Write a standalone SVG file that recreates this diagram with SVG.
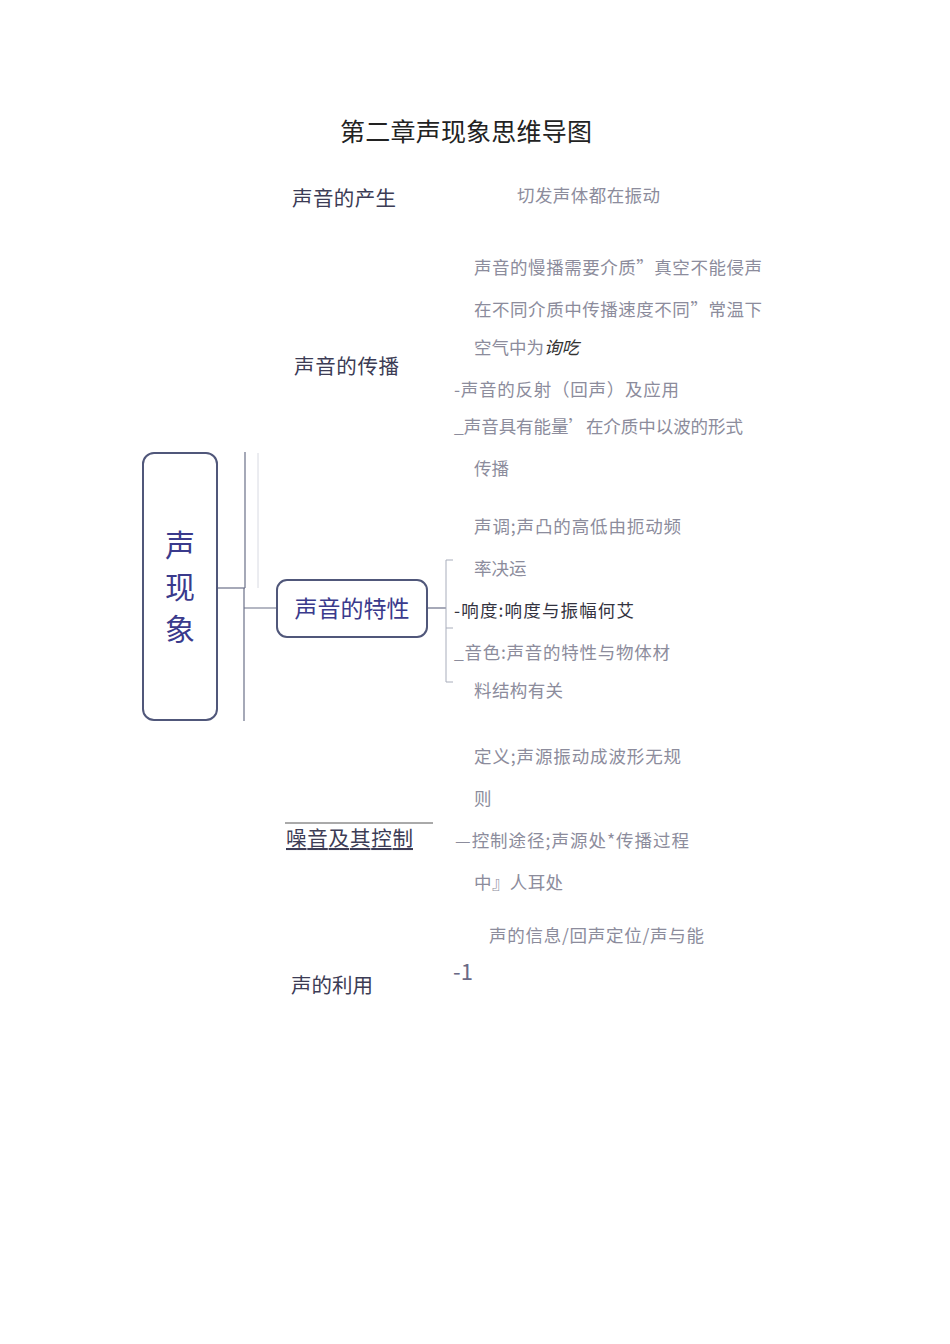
<svg xmlns="http://www.w3.org/2000/svg" width="950" height="1344" viewBox="0 0 950 1344">
<style>
text{font-family:"Noto Sans CJK SC","Liberation Sans",sans-serif;}
.h{font-size:20.5px;fill:#3c3c55;}
.b{font-size:17.5px;fill:#8c8c9c;}
.d{font-size:17.5px;fill:#333340;}
.ln{stroke:#6a7088;stroke-width:1.2;fill:none;}
.fl{stroke:#a8adbb;stroke-width:1;fill:none;}
.box{fill:#fff;stroke:#50577a;stroke-width:2;}
</style>
<rect width="950" height="1344" fill="#fff"/>
<text x="340" y="141" font-size="25" fill="#222" textLength="252">第二章声现象思维导图</text>
<g id="connectors">
<line class="ln" x1="245" y1="452" x2="245" y2="588"/>
<line class="ln" x1="244" y1="588" x2="244" y2="721"/>
<line stroke="#d8dae2" stroke-width="1" x1="258" y1="453" x2="258" y2="588"/>
<line class="ln" x1="217" y1="588" x2="245" y2="588"/>
<line class="ln" x1="244" y1="608" x2="277" y2="608"/>
<line class="ln" x1="427" y1="608" x2="446" y2="608"/>
<line class="fl" x1="446" y1="560" x2="446" y2="682"/>
<line class="fl" x1="446" y1="560" x2="453" y2="560"/>
<line class="fl" x1="446" y1="628" x2="453" y2="628"/>
<line class="fl" x1="446" y1="682" x2="453" y2="682"/>
<line stroke="#555" stroke-width="1" x1="285" y1="823" x2="433" y2="823"/>
</g>
<g id="root">
<rect class="box" x="143" y="453" width="74" height="267" rx="11"/>
<text x="180" y="556" font-size="30" fill="#3a3a8c" text-anchor="middle">声</text>
<text x="180" y="598" font-size="30" fill="#3a3a8c" text-anchor="middle">现</text>
<text x="180" y="640" font-size="30" fill="#3a3a8c" text-anchor="middle">象</text>
</g>
<g id="node-chanSheng">
<text class="h" x="292" y="206" textLength="104">声音的产生</text>
<text class="b" x="517" y="202" textLength="143">切发声体都在振动</text>
</g>
<g id="node-chuanBo">
<text class="h" x="294" y="374" textLength="105">声音的传播</text>
<text class="b" x="474" y="274" textLength="288">声音的慢播需要介质”真空不能侵声</text>
<text class="b" x="474" y="316" textLength="288">在不同介质中传播速度不同”常温下</text>
<text class="b" x="474" y="354">空气中为<tspan fill="#333" font-style="italic">询吃</tspan></text>
<text class="b" x="454" y="396" textLength="225">-声音的反射（回声）及应用</text>
<text class="b" x="454" y="433" textLength="289">_声音具有能量’在介质中以波的形式</text>
<text class="b" x="474" y="475">传播</text>
</g>
<g id="node-teXing">
<rect class="box" x="277" y="580" width="150" height="57" rx="10"/>
<text x="352" y="617" font-size="23" fill="#3a3a8c" text-anchor="middle">声音的特性</text>
<text class="b" x="474" y="533" textLength="207">声调;声凸的高低由扼动频</text>
<text class="b" x="474" y="575">率决运</text>
<text class="d" x="454" y="617" textLength="180">-响度:响度与振幅何艾</text>
<text class="b" x="454" y="659" textLength="216">_音色:声音的特性与物体材</text>
<text class="b" x="474" y="697" textLength="89">料结构有关</text>
</g>
<g id="node-zaoYin">
<text class="h" x="286" y="846" font-size="21" text-decoration="underline" textLength="127">噪音及其控制</text>
<text class="b" x="474" y="763" textLength="207">定义;声源振动成波形无规</text>
<text class="b" x="474" y="805">则</text>
<text class="b" x="455" y="847" textLength="234">—控制途径;声源处*传播过程</text>
<text class="b" x="474" y="889" textLength="89">中』人耳处</text>
</g>
<g id="node-liYong">
<text class="h" x="291" y="993" textLength="82">声的利用</text>
<text class="b" x="489" y="942" textLength="215">声的信息/回声定位/声与能</text>
<text x="453" y="980" font-size="22" fill="#6a6a85" font-family="Liberation Serif, serif">-1</text>
</g>
</svg>
